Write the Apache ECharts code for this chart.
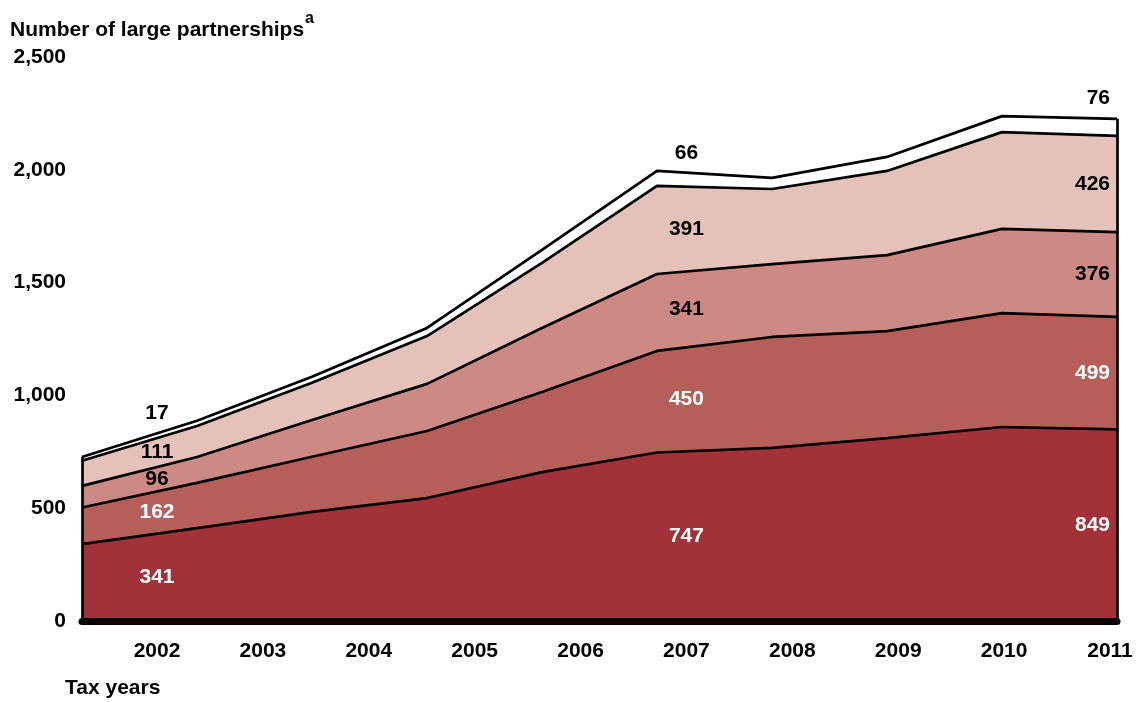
<!DOCTYPE html>
<html>
<head>
<meta charset="utf-8">
<script src="https://cdn.jsdelivr.net/npm/echarts@6/dist/echarts.min.js"></script>
<style>
html,body{margin:0;padding:0;background:#fff;}
#chart{width:1140px;height:702px;}
</style>
</head>
<body>
<div id="chart"></div>
<script>
// ---- data ----
const years = ['2002','2003','2004','2005','2006','2007','2008','2009','2010','2011'];
const layer1 = [341, 412, 484, 545, 660, 747, 767, 811, 860, 849];
const layer2 = [162, 200, 244, 297, 355, 450, 492, 474, 505, 499];
const layer3 = [96, 115, 163, 209, 284, 341, 323, 337, 373, 376];
const layer4 = [111, 137, 165, 212, 288, 391, 333, 373, 429, 426];
const layer5 = [17, 24, 27, 36, 58, 66, 49, 62, 71, 76];
const labelYears = ['2002', '2007', '2011'];
const yTicks = [0, 500, 1000, 1500, 2000, 2500];

// ---- styles ----
const FONT = "'Liberation Sans', Arial, sans-serif";
const FS = 21;
const colors = ['#A3313A', '#B65E59', '#CD8983', '#E4C1B9', '#FFFFFF'];
const labelColors = ['#ffffff', '#ffffff', '#000000', '#000000', '#000000'];
const layers = [layer1, layer2, layer3, layer4, layer5];
// year-label axis span (labels sit apart from the data vertices in the original)
const YMIN = 2001.2917, YMAX = 2011.0661;
const N = years.length;

const cum = [];
layers.forEach((l, k) => {
  cum.push(l.map((v, i) => v + (k ? cum[k - 1][i] : 0)));
});
function interp(arr, t) {
  const i0 = Math.max(0, Math.min(N - 2, Math.floor(t)));
  const f = t - i0;
  return arr[i0] + (arr[i0 + 1] - arr[i0]) * f;
}

const series = [];
layers.forEach((l, k) => {
  series.push({
    type: 'line', stack: 'area', xAxisIndex: 0, yAxisIndex: 0,
    data: l.slice(), symbol: 'none', silent: true,
    lineStyle: { width: 0, opacity: 0 },
    areaStyle: { color: colors[k], opacity: 1 },
    z: 2
  });
});
layers.forEach((l, k) => {
  const s = {
    type: 'line', stack: 'lines', xAxisIndex: 0, yAxisIndex: 0,
    data: l.slice(), symbol: 'none', silent: true,
    lineStyle: { color: '#000', width: 2.7 },
    z: 4
  };
  if (k === layers.length - 1) {
    s.markLine = {
      silent: true, symbol: 'none', label: { show: false },
      lineStyle: { color: '#000', width: 2.7, type: 'solid' },
      data: [
        [{ coord: [0, 0] }, { coord: [0, cum[k][0]] }],
        [{ coord: [N - 1, 0] }, { coord: [N - 1, cum[k][N - 1]] }]
      ]
    };
  }
  series.push(s);
});

// value labels: one scatter series per layer
layers.forEach((l, k) => {
  const isTop = k === layers.length - 1;
  const data = labelYears.map((ys) => {
    const y = +ys;
    const di = years.indexOf(ys);
    const t = (y - YMIN) / (YMAX - YMIN) * (N - 1);
    const top = interp(cum[k], t);
    const bot = k ? interp(cum[k - 1], t) : 0;
    const yv = isTop ? top : (top + bot) / 2;
    return {
      value: [y, yv],
      name: String(l[di]),
      label: { align: ys === '2011' ? 'right' : 'center' }
    };
  });
  series.push({
    type: 'scatter', xAxisIndex: 1, yAxisIndex: 0, silent: true,
    symbolSize: 0, itemStyle: { color: '#ffffff', opacity: 1 },
    data: data, z: 6,
    label: {
      show: true, position: 'inside', formatter: p => p.name,
      offset: isTop ? [0, -20] : [0, 0],
      color: labelColors[k], textBorderWidth: 0, opacity: 1,
      fontFamily: FONT, fontSize: FS, fontWeight: 'bold'
    }
  });
});

const chart = echarts.init(document.getElementById('chart'), null, { renderer: 'canvas' });
chart.setOption({
  animation: false,
  backgroundColor: '#fff',
  title: {
    left: 5, top: 6,
    text: '{m|Number of large partnerships}{s|a}',
    textStyle: {
      rich: {
        m: { fontFamily: FONT, fontSize: FS, fontWeight: 'bold', color: '#000', lineHeight: 30, verticalAlign: 'bottom' },
        s: { fontFamily: FONT, fontSize: 16, fontWeight: 'bold', color: '#000', lineHeight: 16, verticalAlign: 'top', padding: [0, 0, 0, 1] }
      }
    }
  },
  graphic: [{
    type: 'text', left: 65, top: 678,
    style: { text: 'Tax years', fontFamily: FONT, fontSize: FS, fontWeight: 'bold', fill: '#000' }
  }],
  grid: { left: 82, right: 23, top: 57, bottom: 81, containLabel: false, outerBoundsMode: 'none' },
  xAxis: [{
    type: 'category', data: years, boundaryGap: false, position: 'bottom', z: 10,
    axisLine: { show: true, onZero: false, lineStyle: { color: '#000', width: 7 } },
    axisTick: { show: false }, axisLabel: { show: false }, splitLine: { show: false }
  }, {
    type: 'value', min: YMIN, max: YMAX, position: 'bottom',
    axisLine: { show: false }, axisTick: { show: false }, splitLine: { show: false },
    axisLabel: {
      customValues: years.map(Number), formatter: v => String(v),
      fontFamily: FONT, fontSize: FS, fontWeight: 'bold', color: '#000', margin: 20
    }
  }],
  yAxis: [{
    type: 'value', min: yTicks[0], max: yTicks[yTicks.length - 1], interval: yTicks[1] - yTicks[0],
    axisLine: { show: false }, axisTick: { show: false }, splitLine: { show: false },
    axisLabel: {
      formatter: v => v.toLocaleString('en-US'),
      fontFamily: FONT, fontSize: FS, fontWeight: 'bold', color: '#000', margin: 16
    }
  }],
  series: series
});
</script>
</body>
</html>
